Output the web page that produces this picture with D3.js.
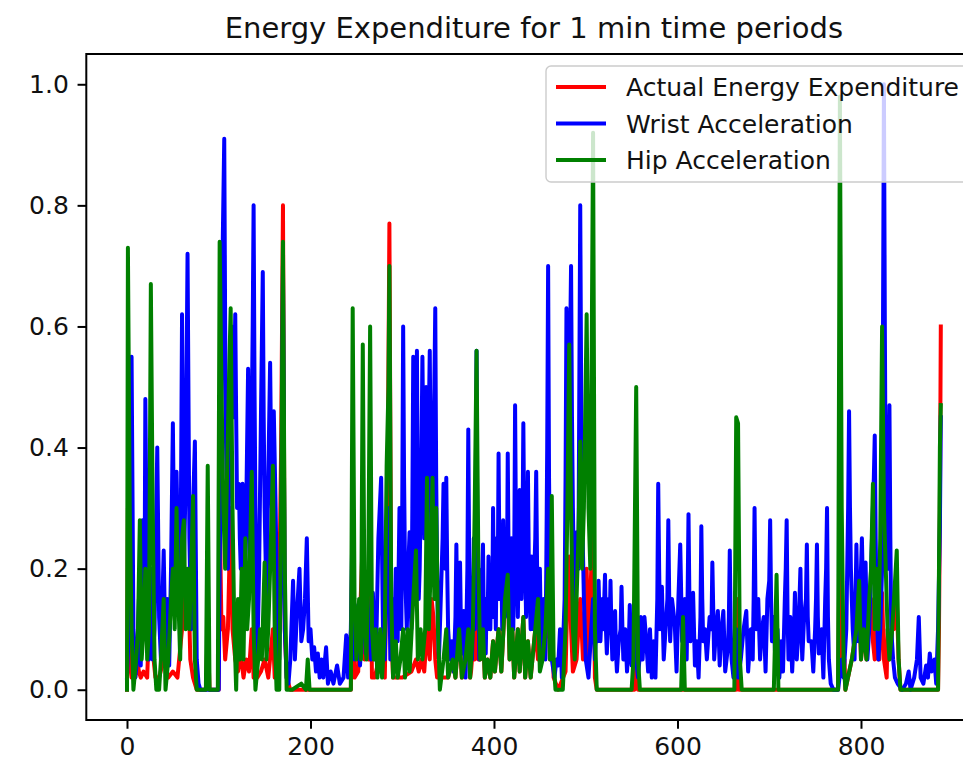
<!DOCTYPE html>
<html>
<head>
<meta charset="utf-8">
<script src="https://cdn.jsdelivr.net/npm/d3@7"></script>
<style>
  html, body { margin: 0; padding: 0; background: #ffffff; }
  svg { display: block; }
  text { font-family: "DejaVu Sans", sans-serif; }
</style>
</head>
<body>
<svg id="chart" width="963" height="770"></svg>
<script>
// ---------- data (index, value) ----------
const title = "Energy Expenditure for 1 min time periods";
const seriesNames = ["Actual Energy Expenditure", "Wrist Acceleration", "Hip Acceleration"];
const seriesColors = ["#ff0000", "#0000ff", "#008000"];
const xTicks = [0, 200, 400, 600, 800];
const yTicks = [0.0, 0.2, 0.4, 0.6, 0.8, 1.0];

const actualEE = [
[0,0.0],[1,0.3],[3,0.05],[5,0.02],[7,0.06],[9,0.02],[11,0.05],[13,0.03],[15,0.02],[18,0.03],[22,0.02],[25,0.15],[27,0.18],[29,0.05],[31,0.02],[35,0.02],[40,0.05],[45,0.02],[50,0.03],[55,0.02],[60,0.1],[63,0.2],[65,0.15],[67,0.18],[69,0.05],[72,0.02],[76,0.0],[86,0.0],[88,0.1],[90,0.0],[100,0.0],
[101,0.3],[103,0.1],[105,0.12],[107,0.05],[110,0.1],[113,0.3],[115,0.1],[118,0.05],[121,0.03],[124,0.06],[127,0.02],[130,0.05],[133,0.03],[136,0.1],[138,0.02],[142,0.02],[146,0.03],[150,0.05],[154,0.02],[159,0.1],[161,0.02],[165,0.05],[168,0.4],[170,0.8],[172,0.1],[174,0.02],[178,0.0],[244,0.0],
[246,0.3],[248,0.02],[252,0.03],[257,0.25],[259,0.05],[261,0.12],[263,0.05],[265,0.3],[267,0.02],[270,0.02],[273,0.04],[276,0.03],[279,0.05],[281,0.02],[284,0.3],[286,0.77],[288,0.1],[290,0.02],[300,0.02],[310,0.03],[315,0.05],[318,0.03],[321,0.05],[324,0.03],[327,0.1],[330,0.05],[332,0.15],[334,0.12],[336,0.05],[338,0.02],[345,0.02],[350,0.02],[355,0.05],[358,0.02],[362,0.1],[365,0.02],[369,0.05],[372,0.1],[374,0.02],
[375,0.03],[377,0.07],[379,0.05],[381,0.3],[383,0.05],[385,0.05],[388,0.1],[390,0.02],[393,0.05],[396,0.02],[399,0.08],[401,0.03],[405,0.1],[408,0.03],[412,0.15],[415,0.19],[417,0.05],[420,0.1],[422,0.02],[426,0.1],[428,0.03],[432,0.12],[434,0.02],[437,0.08],[440,0.02],[445,0.1],[448,0.05],[451,0.15],[453,0.05],[457,0.1],[459,0.15],[461,0.05],[463,0.15],[465,0.02],[470,0.0],[478,0.03],[480,0.15],[482,0.22],[484,0.1],[486,0.03],[490,0.05],[494,0.15],[497,0.05],[501,0.2],[503,0.05],[508,0.3],[510,0.02],[512,0.0],
[553,0.0],[555,0.15],[557,0.0],[664,0.0],[665,0.15],[667,0.0],[775,0.0],[777,0.3],[779,0.05],[782,0.05],[783,0.0],[790,0.05],[795,0.1],[798,0.15],[800,0.05],[803,0.1],[806,0.05],[809,0.12],[811,0.15],[813,0.08],[815,0.05],[817,0.1],[819,0.05],[820,0.05],[822,0.15],[823,0.16],[825,0.05],[828,0.02],[829,0.1],[831,0.05],[834,0.1],[836,0.1],[839,0.15],[841,0.05],[843,0.0],[884,0.0],[885,0.1],[886,0.3],[887,0.6]
];

const wristAcc = [
[0,0.02],[2,0.1],[5,0.55],[7,0.1],[9,0.02],[11,0.05],[13,0.15],[15,0.04],[17,0.28],[19,0.1],[20,0.48],[22,0.15],[24,0.05],[26,0.2],[28,0.05],[30,0.1],[33,0.4],[35,0.12],[37,0.05],[38,0.11],[40,0.23],[42,0.05],[44,0.15],[46,0.04],[48,0.2],[50,0.44],[52,0.15],[54,0.36],[56,0.2],[58,0.1],[60,0.62],[62,0.2],[64,0.35],[66,0.72],[68,0.25],[70,0.1],[72,0.3],[74,0.41],[76,0.05],[78,0.01],[80,0.0],[100,0.0],
[101,0.2],[103,0.5],[104,0.7],[106,0.91],[107,0.6],[108,0.4],[110,0.2],[111,0.3],[112,0.4],[114,0.6],[115,0.5],[116,0.45],[118,0.62],[119,0.45],[120,0.3],[122,0.34],[123,0.25],[124,0.2],[126,0.34],[127,0.25],[128,0.15],[130,0.3],[132,0.53],[133,0.35],[134,0.2],[136,0.45],[137,0.6],[138,0.8],[139,0.5],[140,0.3],[142,0.05],[144,0.2],[146,0.45],[148,0.69],[149,0.45],[150,0.3],[152,0.15],[154,0.35],[156,0.54],[157,0.4],[158,0.3],[160,0.46],[162,0.3],[164,0.1],[166,0.05],[168,0.2],[170,0.7],[172,0.1],[174,0.02],[176,0.01],[178,0.05],
[181,0.18],[183,0.05],[185,0.12],[188,0.2],[190,0.08],[192,0.1],[194,0.15],[196,0.25],[198,0.08],[200,0.1],[202,0.05],[204,0.07],[206,0.03],[208,0.06],[210,0.02],[212,0.05],[214,0.02],[217,0.07],[219,0.01],[222,0.03],[225,0.01],[229,0.04],[232,0.01],[236,0.02],[239,0.09],[241,0.02],[244,0.1],[246,0.3],[248,0.05],[250,0.08],[252,0.14],[254,0.04],[256,0.1],[258,0.2],[260,0.06],[262,0.15],[264,0.1],[266,0.05],[268,0.16],[270,0.05],[272,0.1],[274,0.25],[277,0.35],[279,0.1],[281,0.05],[283,0.2],[285,0.3],[287,0.05],[289,0.15],[291,0.05],[293,0.2],[295,0.08],[297,0.3],
[299,0.1],[300,0.3],[301,0.6],[302,0.35],[303,0.2],[304,0.15],[305,0.1],[306,0.18],[307,0.22],[308,0.26],[309,0.15],[310,0.1],[311,0.3],[312,0.55],[313,0.35],[314,0.2],[315,0.3],[316,0.56],[317,0.3],[318,0.15],[319,0.2],[320,0.3],[321,0.4],[322,0.55],[323,0.4],[324,0.25],[325,0.35],[326,0.5],[327,0.4],[328,0.3],[329,0.45],[330,0.56],[331,0.35],[332,0.2],[333,0.3],[334,0.4],[335,0.5],[336,0.63],[337,0.35],[338,0.2],[339,0.1],[340,0.05],
[342,0.15],[344,0.25],[345,0.34],[346,0.25],[347,0.2],[348,0.35],[349,0.2],[350,0.1],[352,0.05],[354,0.08],[356,0.03],[358,0.12],[359,0.24],[360,0.12],[361,0.05],[362,0.12],[363,0.21],[364,0.1],[365,0.06],[367,0.13],[369,0.02],[371,0.2],[372,0.43],[373,0.2],[374,0.1],[376,0.05],[377,0.12],
[378,0.25],[379,0.1],[380,0.3],[381,0.56],[382,0.15],[383,0.2],[384,0.05],[385,0.12],[386,0.08],[387,0.18],[388,0.24],[389,0.1],[390,0.15],[391,0.06],[392,0.15],[393,0.1],[394,0.22],[395,0.12],[396,0.1],[397,0.2],[398,0.12],[399,0.3],[400,0.15],[401,0.2],[402,0.1],[403,0.25],[404,0.15],[405,0.39],[406,0.2],[407,0.15],[408,0.22],[409,0.1],[410,0.28],[411,0.18],[412,0.12],[413,0.25],[414,0.15],[415,0.39],[416,0.2],[417,0.18],[418,0.1],[419,0.25],[420,0.15],[421,0.1],[422,0.2],[423,0.47],[424,0.25],[425,0.2],[426,0.12],[427,0.22],[428,0.33],[429,0.2],[430,0.15],[431,0.25],[432,0.44],[433,0.25],[434,0.2],[435,0.12],[436,0.22],[437,0.36],[438,0.2],[439,0.15],[440,0.1],[441,0.22],[442,0.15],[443,0.1],[444,0.2],[445,0.25],[446,0.36],[447,0.2],[448,0.12],[449,0.1],[450,0.2],[451,0.1],[452,0.05],[453,0.1],[454,0.15],[455,0.08],[456,0.05],[457,0.2],[458,0.4],[459,0.7],[460,0.35],[461,0.2],[462,0.1],[463,0.05],
[466,0.02],[468,0.05],[470,0.04],[472,0.1],[474,0.02],[477,0.15],[478,0.35],[479,0.63],[480,0.4],[481,0.3],[482,0.45],[484,0.7],[485,0.45],[486,0.3],[488,0.1],[490,0.26],[492,0.2],[493,0.5],[494,0.8],[495,0.5],[496,0.3],[498,0.15],[500,0.05],
[503,0.02],[506,0.1],[508,0.15],[510,0.05],[512,0.12],[513,0.08],[514,0.18],[515,0.12],[516,0.08],[517,0.12],[518,0.15],[519,0.1],[520,0.14],[521,0.19],[522,0.1],[523,0.06],[524,0.1],[525,0.15],[526,0.1],[527,0.18],[528,0.1],[529,0.05],[531,0.08],[532,0.13],[533,0.06],[534,0.03],[536,0.08],[538,0.1],[539,0.17],[540,0.1],[541,0.05],[543,0.1],[545,0.03],[547,0.08],[548,0.14],[549,0.08],[550,0.04],[552,0.1],[555,0.05],[557,0.02],[559,0.06],[560,0.12],[561,0.08],[562,0.05],[564,0.12],[566,0.08],[568,0.03],[570,0.1],[572,0.02],[574,0.08],[576,0.02],[578,0.15],[579,0.34],[580,0.2],[581,0.1],[583,0.17],[585,0.05],[587,0.1],[589,0.15],[590,0.28],[591,0.15],[592,0.08],[594,0.15],[597,0.11],[599,0.03],
[601,0.15],[603,0.24],[605,0.08],[608,0.15],[610,0.05],[611,0.15],[612,0.29],[613,0.15],[614,0.08],[617,0.16],[619,0.04],[621,0.08],[623,0.02],[625,0.12],[626,0.27],[627,0.15],[628,0.08],[630,0.1],[632,0.05],[635,0.12],[637,0.1],[638,0.21],[640,0.05],[642,0.1],[644,0.13],[646,0.04],[648,0.1],[650,0.13],[652,0.03],[655,0.07],[656,0.12],[657,0.23],[658,0.1],[659,0.05],[661,0.02],[664,0.1],[666,0.02],[669,0.05],[672,0.1],[675,0.13],[677,0.03],[680,0.1],[682,0.05],[683,0.15],[684,0.3],[685,0.15],[686,0.1],[688,0.15],[690,0.05],[692,0.1],[694,0.12],[696,0.03],[698,0.15],
[700,0.18],[701,0.28],[702,0.15],[703,0.08],[705,0.12],[707,0.03],[709,0.1],[711,0.02],[713,0.08],[715,0.03],[717,0.15],[718,0.2],[719,0.28],[720,0.12],[721,0.05],[723,0.12],[725,0.03],[727,0.1],[728,0.16],[729,0.1],[730,0.05],[732,0.1],[733,0.15],[734,0.2],[735,0.1],[736,0.05],[738,0.12],[740,0.15],[741,0.24],[742,0.12],[743,0.08],[746,0.08],[748,0.03],[750,0.1],[751,0.15],[752,0.24],[753,0.12],[754,0.06],[757,0.1],[759,0.02],[761,0.15],[762,0.2],[763,0.3],[764,0.12],[765,0.05],[767,0.01],[770,0.0],[775,0.0],[779,0.05],[781,0.02],[784,0.1],[786,0.3],[787,0.46],[788,0.3],[789,0.2],[791,0.1],[793,0.05],[795,0.24],[797,0.08],[799,0.15],
[801,0.25],[803,0.1],[805,0.21],[807,0.05],[809,0.1],[811,0.2],[813,0.3],[814,0.35],[815,0.42],[816,0.25],[817,0.15],[819,0.05],[821,0.1],[823,0.2],[824,0.6],[825,1.0],[826,0.6],[827,0.3],[829,0.2],[830,0.35],[831,0.47],[832,0.25],[833,0.1],[835,0.05],[837,0.02],[840,0.01],[845,0.0],[849,0.01],[852,0.03],[854,0.0],[858,0.02],[861,0.05],[863,0.12],[865,0.02],[868,0.01],[871,0.04],[873,0.02],[875,0.06],[877,0.03],[880,0.05],[882,0.01],[884,0.1],[886,0.27],[887,0.45]
];

const hipAcc = [
[0,0.0],[1,0.73],[3,0.3],[5,0.1],[7,0.0],[10,0.05],[12,0.1],[14,0.28],[16,0.05],[18,0.1],[20,0.2],[22,0.05],[24,0.1],[26,0.67],[28,0.3],[30,0.05],[32,0.0],[35,0.0],[37,0.05],[40,0.15],[42,0.0],[45,0.05],[48,0.15],[50,0.2],[52,0.1],[54,0.3],[56,0.15],[58,0.05],[60,0.25],[62,0.28],[64,0.1],[66,0.2],[68,0.1],[70,0.2],[72,0.32],[74,0.05],[76,0.0],[86,0.0],[88,0.37],[90,0.0],[99,0.0],
[101,0.74],[103,0.5],[105,0.3],[107,0.2],[109,0.35],[111,0.5],[113,0.63],[115,0.3],[117,0.1],[119,0.0],[121,0.15],[123,0.05],[125,0.2],[127,0.05],[129,0.25],[131,0.1],[133,0.15],[136,0.36],[138,0.1],[140,0.0],[143,0.05],[145,0.1],[147,0.05],[150,0.21],[152,0.05],[154,0.1],[156,0.2],[159,0.37],[161,0.1],[163,0.0],[166,0.0],[168,0.3],[170,0.74],[172,0.2],[174,0.0],[180,0.0],[190,0.01],[195,0.0],[197,0.05],[199,0.0],[244,0.0],
[246,0.63],[248,0.15],[250,0.05],[253,0.15],[255,0.05],[257,0.57],[259,0.1],[261,0.05],[263,0.2],[265,0.6],[267,0.1],[269,0.05],[271,0.1],[273,0.02],[276,0.1],[278,0.02],[281,0.1],[283,0.37],[285,0.5],[286,0.7],[288,0.15],[290,0.02],[293,0.08],[295,0.02],[298,0.05],[301,0.1],[303,0.02],[306,0.1],[308,0.03],[312,0.15],[315,0.23],[317,0.05],[320,0.1],[322,0.05],[325,0.1],[327,0.35],[329,0.1],[331,0.2],[333,0.35],[335,0.15],[337,0.3],[339,0.1],[341,0.0],[345,0.05],[348,0.1],[350,0.02],[355,0.05],[358,0.02],[362,0.1],[365,0.02],[369,0.05],[372,0.1],[374,0.02],[377,0.1],[379,0.3],[381,0.56],[383,0.2],[385,0.05],[388,0.1],[390,0.02],[393,0.05],[396,0.02],[399,0.08],
[401,0.03],[405,0.1],[408,0.03],[412,0.15],[415,0.19],[417,0.05],[420,0.1],[422,0.02],[426,0.1],[428,0.03],[432,0.12],[434,0.02],[437,0.08],[440,0.02],[445,0.1],[448,0.15],[450,0.03],[453,0.05],[456,0.1],[459,0.2],[461,0.05],[463,0.32],[465,0.05],[467,0.0],[475,0.0],[478,0.1],[480,0.3],[482,0.57],[484,0.3],[486,0.1],[488,0.05],[490,0.15],[492,0.25],[494,0.41],[496,0.2],[498,0.3],[501,0.62],[503,0.3],[505,0.2],[508,0.92],[510,0.1],[512,0.0],
[550,0.0],[552,0.05],[555,0.5],[557,0.05],[559,0.0],[604,0.0],[606,0.12],[608,0.0],[662,0.0],[664,0.45],[666,0.44],[668,0.05],[670,0.0],[705,0.0],[708,0.19],[710,0.0],[775,0.0],[777,0.98],[779,0.3],[781,0.05],[783,0.0],[790,0.05],[795,0.1],[798,0.18],[800,0.05],[803,0.1],[806,0.05],[809,0.15],[811,0.2],[813,0.34],[815,0.1],[817,0.2],[819,0.1],[821,0.25],[823,0.6],[825,0.3],[827,0.2],[829,0.1],[831,0.05],[834,0.1],[836,0.15],[839,0.23],[841,0.05],[843,0.0],[884,0.0],[885,0.2],[886,0.4],[887,0.47]
];

// ---------- chart ----------
const W = 963, H = 770;
const plot = { left: 86.3, right: 981.5, top: 54, bottom: 720 };
const svg = d3.select("#chart");

const allSeries = [actualEE, wristAcc, hipAcc];
const xMin = 0, xMax = d3.max(allSeries, s => d3.max(s, d => d[0]));
const xPad = (xMax - xMin) * 0.05;
const x = d3.scaleLinear().domain([xMin - xPad, xMax + xPad]).range([plot.left, plot.right]);
const y = d3.scaleLinear().domain([-0.05, 1.05]).range([plot.bottom, plot.top]);

const FS = 25;
const tickLen = 8.75;
const LW = 4;

// lines
const line = d3.line().x(d => x(d[0])).y(d => y(d[1]));
svg.append("defs").append("clipPath").attr("id", "clip")
  .append("rect").attr("x", plot.left).attr("y", plot.top)
  .attr("width", plot.right - plot.left).attr("height", plot.bottom - plot.top);

const g = svg.append("g").attr("clip-path", "url(#clip)");
allSeries.forEach((s, i) => {
  g.append("path").datum(s)
    .attr("d", line)
    .attr("fill", "none")
    .attr("stroke", seriesColors[i])
    .attr("stroke-width", LW)
    .attr("stroke-linejoin", "round")
    .attr("stroke-linecap", "square");
});

// axes
const xAxis = d3.axisBottom(x).tickValues(xTicks).tickSize(tickLen).tickPadding(8.75).tickFormat(d3.format("d"));
const yAxis = d3.axisLeft(y).tickValues(yTicks).tickSize(tickLen).tickPadding(8.75).tickFormat(d3.format(".1f"));

const gx = svg.append("g").attr("transform", `translate(0,${plot.bottom})`).call(xAxis);
const gy = svg.append("g").attr("transform", `translate(${plot.left},0)`).call(yAxis);
[gx, gy].forEach(ax => {
  ax.select(".domain").remove();
  ax.selectAll(".tick line").attr("stroke", "#000").attr("stroke-width", 2);
  ax.selectAll(".tick text").attr("fill", "#111").style("font-size", FS + "px").style("font-family", "DejaVu Sans");
});

// spines
const spines = svg.append("g").attr("stroke", "#000").attr("stroke-width", 2).attr("fill", "none");
spines.append("rect")
  .attr("x", plot.left).attr("y", plot.top)
  .attr("width", plot.right - plot.left).attr("height", plot.bottom - plot.top)
  .attr("stroke-linejoin", "miter");

// title
svg.append("text")
  .attr("x", (plot.left + plot.right) / 2)
  .attr("y", 38)
  .attr("text-anchor", "middle")
  .style("font-size", "29px")
  .attr("fill", "#111")
  .text(title);

// legend
const legRight = plot.right - 12.5;
const legTop = plot.top + 12;
const pad = 10, handleLen = 50, handlePad = 20, rowH = 36.5;
const firstRow = 21;
const leg = svg.append("g");
const legText = leg.selectAll("text.lt").data(seriesNames).enter().append("text")
  .attr("class", "lt")
  .style("font-size", FS + "px")
  .attr("fill", "#111")
  .text(d => d);
let maxW = 0;
legText.each(function() { maxW = Math.max(maxW, this.getComputedTextLength()); });
const legW = pad + handleLen + handlePad + maxW + pad;
const legH = firstRow + rowH * (seriesNames.length - 1) + 22;
const legLeft = legRight - legW;
leg.insert("rect", "text")
  .attr("x", legLeft).attr("y", legTop)
  .attr("width", legW).attr("height", legH)
  .attr("rx", 5).attr("ry", 5)
  .attr("fill", "#fff").attr("fill-opacity", 0.8)
  .attr("stroke", "#cccccc").attr("stroke-width", 1.4);
seriesNames.forEach((n, i) => {
  const cy = legTop + firstRow + i * rowH;
  leg.insert("line", "text")
    .attr("x1", legLeft + pad).attr("x2", legLeft + pad + handleLen)
    .attr("y1", cy).attr("y2", cy)
    .attr("stroke", seriesColors[i]).attr("stroke-width", LW);
});
legText
  .attr("x", legLeft + pad + handleLen + handlePad)
  .attr("y", (d, i) => legTop + firstRow + i * rowH + 9);
</script>
</body>
</html>
